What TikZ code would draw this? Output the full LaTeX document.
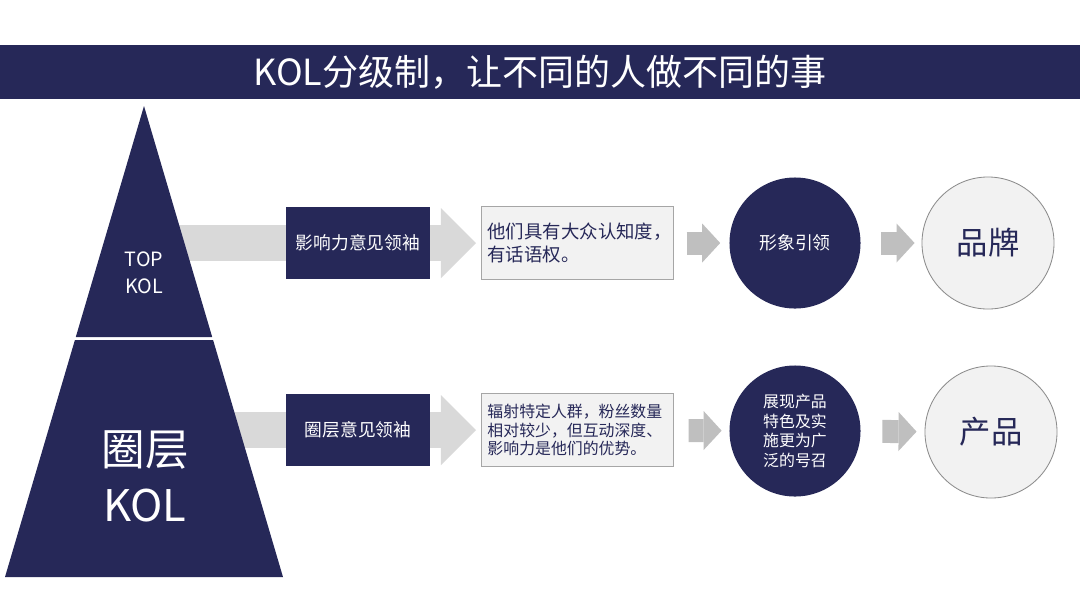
\documentclass[tikz,border=0pt]{standalone}
\usepackage{fontspec}
\setmainfont{Noto Sans CJK SC}
\usetikzlibrary{arrows.meta,backgrounds}
\definecolor{navy}{RGB}{38,40,88}
\definecolor{lightgrey}{RGB}{242,242,242}
\definecolor{arrowgrey}{RGB}{217,217,217}
\definecolor{tipgrey}{RGB}{191,191,191}

\begin{document}
\begin{tikzpicture}[x=0.025cm, y=-0.025cm,
		titlebar/.style={fill=navy, text=white, minimum width=27cm, minimum height=1.35cm, inner sep=0pt, font=\fontsize{25.6}{30}\selectfont},
		tiertext/.style={text=white, align=center, inner sep=0pt},
		leadbox/.style={fill=navy, text=white, minimum width=3.575cm, minimum height=1.8cm, inner sep=0pt, font=\fontsize{12.6}{15}\selectfont},
		notebox/.style={fill=lightgrey, draw=black!35, line width=0.6pt, text=navy, align=left, text width=4.5cm, inner xsep=0.14cm, minimum height=1.82cm},
		darkdisc/.style={circle, fill=navy, text=white, minimum size=3.275cm, inner sep=0pt, align=left},
		lightdisc/.style={circle, fill=lightgrey, draw=black!45, line width=0.6pt, text=navy, minimum size=3.3cm, inner sep=0pt, font=\fontsize{22.3}{26}\selectfont},
		bigarrow/.style={arrowgrey, line width=0.9cm, -{Triangle[length=0.875cm, width=1.75cm, line width=0pt]}},
		smallarrow/.style={tipgrey, line width=0.575cm, -{Triangle[length=0.45cm, width=0.975cm, line width=0pt]}}
	]
	\useasboundingbox (0,0) rectangle (1080,608);
	
	\node[titlebar] (title) at (540,72) {KOL分级制，让不同的人做不同的事};
	
	% pyramid
	\fill[navy] (144,106) -- (212.2,337) -- (75.8,337) -- cycle;
	\fill[navy] (74.9,340) -- (213.1,340) -- (283,577) -- (5,577) -- cycle;
	\node[tiertext, font=\fontsize{14}{19}\selectfont] (topkol) at (144,273) {TOP\\KOL};
	\node[tiertext, font=\fontsize{31}{40}\selectfont] (circlekol) at (145,476) {圈层\\KOL};
	
	% row 1
	\node[leadbox] (lead1) at (358,243) {影响力意见领袖};
	\node[notebox, font=\fontsize{13.1}{15.8}\selectfont] (note1) at (577.5,243) {他们具有大众认知度，\\有话语权。};
	\node[darkdisc, font=\fontsize{12.7}{15}\selectfont] (image) at (795,243) {形象引领};
	\node[lightdisc] (brand) at (988,243) {品牌};
	\coordinate (tip1) at (476,243);
	
	% row 2
	\node[leadbox] (lead2) at (358,430) {圈层意见领袖};
	\node[notebox, font=\fontsize{11.3}{13.2}\selectfont] (note2) at (577.5,430) {辐射特定人群，粉丝数量\\相对较少，但互动深度、\\影响力是他们的优势。};
	\node[darkdisc, font=\fontsize{11.3}{13.8}\selectfont] (reach) at (795,431) {展现产品\\特色及实\\施更为广\\泛的号召};
	\node[lightdisc] (product) at (991,432) {产品};
	\coordinate (tip2) at (476,430);
	
	\begin{scope}[on background layer]
		\draw[bigarrow] (lead1 -| topkol) -- (tip1);
		\draw[bigarrow] (lead2 -| circlekol) -- (tip2);
	\end{scope}
	
	\draw[smallarrow, shorten <=0.325cm, shorten >=0.225cm] (note1) -- (image);
	\draw[smallarrow, shorten <=0.5cm, shorten >=0.175cm] (image) -- (brand);
	\draw[smallarrow, shorten <=0.375cm, shorten >=0.19cm] (note2) -- (reach);
	\draw[smallarrow, shorten <=0.54cm, shorten >=0.2cm] (reach) -- (product);
\end{tikzpicture}
\end{document}
